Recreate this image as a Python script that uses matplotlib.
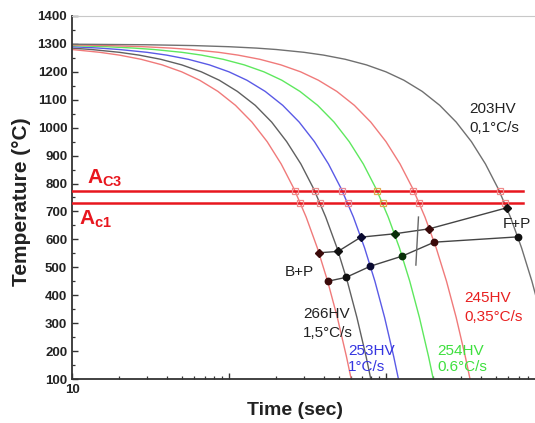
import matplotlib
matplotlib.use('Agg')
import matplotlib.pyplot as plt
from matplotlib.ticker import LogLocator, FixedLocator, MultipleLocator, NullFormatter

plt.rcParams['font.family'] = ['Liberation Sans', 'DejaVu Sans']
plt.rcParams['mathtext.fontset'] = 'custom'
plt.rcParams['mathtext.bf'] = 'Liberation Sans:bold'
plt.rcParams['mathtext.rm'] = 'Liberation Sans'

# --- cooling curves (temperature levels shared, times read per curve) ---
curve_temp = [1299, 1297, 1294, 1290, 1285, 1280, 1270, 1260, 1245, 1225, 1200, 1170,
              1130, 1080, 1020, 950, 870, 780, 680, 570, 450, 320, 180, 100]
t_2c = [0.5, 1.5, 3, 5, 7.5, 10, 15, 20, 27.5, 37.5, 50, 65,
        85, 110, 140, 175, 215, 260, 310, 365, 425, 490, 560, 600]
t_15c = [0.67, 2, 4, 6.7, 10, 13.3, 20, 26.7, 36.7, 50, 66.7, 86.7,
         113, 147, 187, 233, 287, 347, 413, 487, 567, 653, 747, 800]
t_1c = [1, 3, 6, 10, 15, 20, 30, 40, 55, 75, 100, 130,
        170, 220, 280, 350, 430, 520, 620, 730, 850, 980, 1120, 1200]
t_06c = [1.7, 5, 10, 16.7, 25, 33.3, 50, 66.7, 91.7, 125, 167, 217,
         283, 367, 467, 583, 717, 867, 1033, 1217, 1417, 1633, 1867, 2000]
t_035c = [2.9, 8.6, 17.1, 28.6, 42.9, 57.1, 85.7, 114, 157, 214, 286, 371,
          486, 629, 800, 1000, 1229, 1486, 1771, 2086, 2429, 2800, 3200, 3429]
t_01c = [10, 30, 60, 100, 150, 200, 300, 400, 550, 750, 1000, 1300,
         1700, 2200, 2800, 3500, 4300, 5200, 6200, 7300, 8500, 9800, 11200, 12000]

curves = [t_2c, t_15c, t_1c, t_06c, t_035c, t_01c]
curve_colors = ['#f07a7a', '#606060', '#5a5ae6', '#5ee85e', '#f07a7a', '#707070']
square_colors = ['#f08a8a', '#e59090', '#e58a9a', '#e0a850', '#f08a8a', '#f08a8a']

# critical temperatures
ac3 = 772
ac1 = 730
ac_tmax = 7470
ac3_times = [263, 353, 525, 873, 1490, 5320]
ac1_times = [285, 380, 570, 950, 1630, 5700]

# transformation start / finish points
start_t = [374, 495, 692, 1133, 1891, 5870]
start_T = [552, 557, 608, 620, 638, 713]
finish_t = [425, 557, 796, 1267, 2029, 6910]
finish_T = [450, 464, 504, 540, 590, 609]
start_colors = ['#3a0a0a', '#111111', '#0a0a30', '#0a300a', '#3a0a0a', '#111111']

# B / F boundary stroke
bound_t = [1610, 1550]
bound_T = [680, 508]

# labels: (text, time, temp, color)
labels = [
    ('266HV', 296, 320, '#222222'), ('1,5°C/s', 296, 252, '#222222'),
    ('253HV', 573, 187, '#3535e0'), ('1°C/s', 573, 127, '#3535e0'),
    ('254HV', 2113, 187, '#3ee03e'), ('0.6°C/s', 2113, 127, '#3ee03e'),
    ('245HV', 3140, 377, '#e82020'), ('0,35°C/s', 3140, 309, '#e82020'),
    ('203HV', 3380, 1054, '#222222'), ('0,1°C/s', 3380, 986, '#222222'),
    ('B+P', 227, 470, '#222222'), ('F+P', 5560, 642, '#222222'),
]

fig = plt.figure(figsize=(5.35, 4.23), dpi=100)
ax = fig.add_axes([72 / 535, 44 / 423, 471 / 535, 363 / 423])

for ts, c in zip(curves, curve_colors):
    ax.plot(ts, curve_temp, color=c, lw=1.0, zorder=2)

ax.plot([10, ac_tmax], [ac3, ac3], color='#e8161e', lw=1.8, zorder=3)
ax.plot([10, ac_tmax], [ac1, ac1], color='#e8161e', lw=1.8, zorder=3)

for i in range(len(curves)):
    ax.plot([ac3_times[i], ac1_times[i]], [ac3, ac1], ls='none', marker='s', ms=4.2,
            mfc='none', mec=square_colors[i], mew=0.9, zorder=4)

ax.plot(start_t, start_T, color='#444444', lw=1.0, zorder=4)
ax.plot(finish_t, finish_T, color='#444444', lw=1.0, zorder=4)
ax.plot(bound_t, bound_T, color='#666666', lw=1.0, zorder=4)
for i in range(len(start_t)):
    ax.plot(start_t[i], start_T[i], marker='D', ms=4.2, color=start_colors[i], zorder=5)
    ax.plot(finish_t[i], finish_T[i], marker='o', ms=4.6, color=start_colors[i], zorder=5)

for txt, tx, ty, c in labels:
    ax.text(tx, ty, txt, color=c, fontsize=11, ha='left', va='baseline', zorder=6)

ax.text(12.46, 800, r'$\mathbf{A_{C3}}$', color='#e8161e', fontsize=15, ha='left', va='baseline')
ax.text(11.08, 653, r'$\mathbf{A_{c1}}$', color='#e8161e', fontsize=15, ha='left', va='baseline')

ax.set_xscale('log')
ax.set_xlim(10, 10000)
ax.set_ylim(100, 1400)

ax.xaxis.set_major_locator(FixedLocator([10, 100, 1000, 10000]))
ax.xaxis.set_minor_locator(LogLocator(base=10, subs=range(2, 10)))
ax.set_xticklabels(['10', '', '', ''])
ax.xaxis.set_minor_formatter(NullFormatter())
ax.yaxis.set_major_locator(MultipleLocator(100))
ax.yaxis.set_minor_locator(MultipleLocator(50))

ax.tick_params(which='both', direction='in', colors='#333333', labelcolor='#222222')
ax.tick_params(which='major', length=4.5, width=1.0, labelsize=9.5)
ax.tick_params(which='minor', length=2.5, width=0.9)
for lab in ax.get_xticklabels() + ax.get_yticklabels():
    lab.set_fontweight('bold')

ax.spines['left'].set_color('#333333')
ax.spines['bottom'].set_color('#333333')
ax.spines['left'].set_linewidth(1.3)
ax.spines['bottom'].set_linewidth(1.3)
ax.spines['top'].set_color('#c8c8c8')
ax.spines['right'].set_visible(False)

fig.text(295 / 535, 1 - 410 / 423, 'Time (sec)', fontsize=14, fontweight='bold',
         ha='center', va='center', color='#222222')
fig.text(22 / 535, 1 - 202 / 423, 'Temperature (°C)', fontsize=15, fontweight='bold',
         rotation=90, ha='center', va='center', color='#222222')

fig.savefig('out.png', dpi=100)
